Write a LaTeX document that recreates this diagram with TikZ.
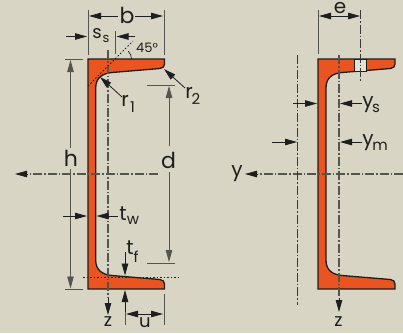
\documentclass[tikz,border=0pt]{standalone}
\usepackage{fontspec}
\setmainfont{Poppins}
\usetikzlibrary{arrows.meta}
\definecolor{bgc}{HTML}{D9D5C5}
\definecolor{steelc}{HTML}{E95420}
\definecolor{inkc}{HTML}{1E1E1E}
\definecolor{axisc}{HTML}{555550}
\tikzset{
  x=1pt,y=-1pt,
  profile/.style={draw=inkc,line width=1.3pt,fill=steelc,line join=miter},
  dim/.style={draw=axisc,line width=0.9pt},
  tipA/.style={-{Triangle[length=12pt,width=6.5pt]},draw=inkc,line width=0.8pt},
  tipB/.style={{Triangle[length=12pt,width=6.5pt]}-{Triangle[length=12pt,width=6.5pt]},draw=inkc,line width=0.8pt},
  axisline/.style={draw=axisc,line width=1.1pt,dash pattern=on 9pt off 2pt on 1.5pt off 2pt},
  thinaxis/.style={draw=inkc!85!bgc,line width=0.7pt,dash pattern=on 9pt off 2pt on 1.5pt off 2pt},
  dotline/.style={draw=inkc,line width=0.8pt,dash pattern=on 1.5pt off 2pt},
  lbl/.style={inner sep=0pt,text=inkc,font=\fontsize{20}{20}\selectfont},
  low/.style={inner sep=0pt,text=inkc,font=\fontsize{18}{18}\selectfont},
  tall/.style={inner sep=0pt,text=inkc,font=\fontsize{22}{22}\selectfont},
  sub/.style={inner sep=0pt,text=inkc,font=\fontsize{15}{15}\selectfont},
}
\begin{document}
\begin{tikzpicture}
\useasboundingbox[fill=bgc] (0,0) rectangle (403,333);
% left profile
\draw[profile] (88,59) -- (164.5,59) -- (164.5,64) .. controls (164.5,66.5) and (163,68) .. (160,68.5)
  -- (112,72.5) .. controls (102,73.5) and (95.7,78) .. (95.7,88)
  -- (95.7,260) .. controls (95.7,270) and (102,274.5) .. (112,275.5)
  -- (160,279.5) .. controls (163,280) and (164.5,281.5) .. (164.5,284) -- (164.5,289) -- (88,289) -- cycle;
% right profile
\draw[profile] (318,59) -- (395,59) -- (395,64) .. controls (395,66.5) and (393.5,68) .. (390.5,68.5)
  -- (342,72.5) .. controls (332,73.5) and (326,78) .. (326,88)
  -- (326,260) .. controls (326,270) and (332,274.5) .. (342,275.5)
  -- (390.5,279.5) .. controls (393.5,280) and (395,281.5) .. (395,284) -- (395,289) -- (318,289) -- cycle;
\draw[draw=inkc,line width=0.8pt,fill=bgc!70!white] (354.5,59.6) rectangle (366.5,71);
% left axes
\draw[axisline] (108,50) -- (108,298);
\draw[tipA] (108,298) -- (108,315);
\draw[axisline] (158,174) -- (28,174);
\draw[tipA] (28,174) -- (15,174);
\draw[dotline] (88,86) -- (133,41);
\draw[dotline] (83,277) -- (179,277);
\draw[draw=inkc,line width=0.7pt] (131.5,59) arc[start angle=0,end angle=-45,radius=11];
% b
\draw[dim] (88,10) -- (88,55);
\draw[dim] (164,10) -- (164,55);
\draw[tipA] (118,16) -- (89,16);
\draw[tipA] (135,16) -- (163,16);
% ss
\draw[tipA] (66,36.5) -- (87,36.5);
\draw[dim] (115.5,31) -- (115.5,54);
\draw[tipA] (135,36.5) -- (116.5,36.5);
% h
\draw[dim] (65,59) -- (83,59);
\draw[dim] (65,289.5) -- (83,289.5);
\draw[tipA,axisc] (70.5,148) -- (70.5,60);
\draw[tipA,axisc] (70.5,169) -- (70.5,288.5);
% d
\draw[dim] (147,85) -- (175,85);
\draw[dim] (147,263) -- (175,263);
\draw[tipA,axisc] (169,146) -- (169,86);
\draw[tipA,axisc] (169,172) -- (169,262);
% r
\draw[tipA] (122,97) -- (100,77);
\draw[tipA] (185,88) -- (164,69);
% tw
\draw[tipA] (63,216) -- (87,216);
\draw[tipA] (118,216) -- (96.5,216);
% tf
\draw[tipA] (125,252) -- (125,275.5);
% u
\draw[dim] (125,300) -- (125,325);
\draw[tipA] (125,312) -- (125,290);
\draw[dim] (164,294) -- (164,325);
\draw[tipB] (126,314) -- (163,314);
% left labels
\node[tall] (lb) at (127,15) {b};
\node[low] (lss) at (97,34) {s};
\node[sub] (lss2) at (106,38.5) {\fontsize{13}{13}\selectfont s};
\node[sub] (l45) at (147,48) {\fontsize{13}{13}\selectfont 45°};
\node[tall] (lh) at (71,158) {h};
\node[tall] (ld) at (168.5,160) {d};
\node[lbl] (lr1) at (125,101) {r};
\node[sub] (lr1s) at (132.5,107) {1};
\node[lbl] (lr2) at (189,93) {r};
\node[sub] (lr2s) at (196,99) {2};
\node[lbl] (ltw) at (123,214) {t};
\node[sub] (ltws) at (133,220) {w};
\node[lbl] (ltf) at (130,248) {t};
\node[sub] (ltfs) at (136,257) {f};
\node[low] (lz) at (108,322) {z};
\node[low] (lu) at (145,323) {u};
% right axes
\draw[axisline] (339,55) -- (339,298);
\draw[tipA] (339,298) -- (339,312);
\draw[axisline] (403,174) -- (258,174);
\draw[tipA] (258,174) -- (245,174);
\draw[thinaxis] (297.5,55) -- (297.5,305);
\draw[thinaxis] (360.5,10) -- (360.5,81);
\draw[dim] (318.5,10) -- (318.5,54);
\draw[tipA] (339,16) -- (319,16);
\draw[tipA] (339,16) -- (360,16);
\draw[tipA] (293,103.5) -- (317,103.5);
\draw[tipA] (362,103.5) -- (340,103.5);
\draw[tipA] (272,142) -- (297,142);
\draw[tipA] (362,142) -- (340,142);
\node[lbl] (re) at (340,8) {e};
\node[lbl] (ry) at (237,174) {y};
\node[low] (rz) at (338.5,322) {z};
\node[lbl] (rys) at (368,105) {y};
\node[sub] (ryss) at (376,108) {s};
\node[lbl] (rym) at (368,143) {y};
\node[sub] (ryms) at (380,146) {m};
\end{tikzpicture}
\end{document}
